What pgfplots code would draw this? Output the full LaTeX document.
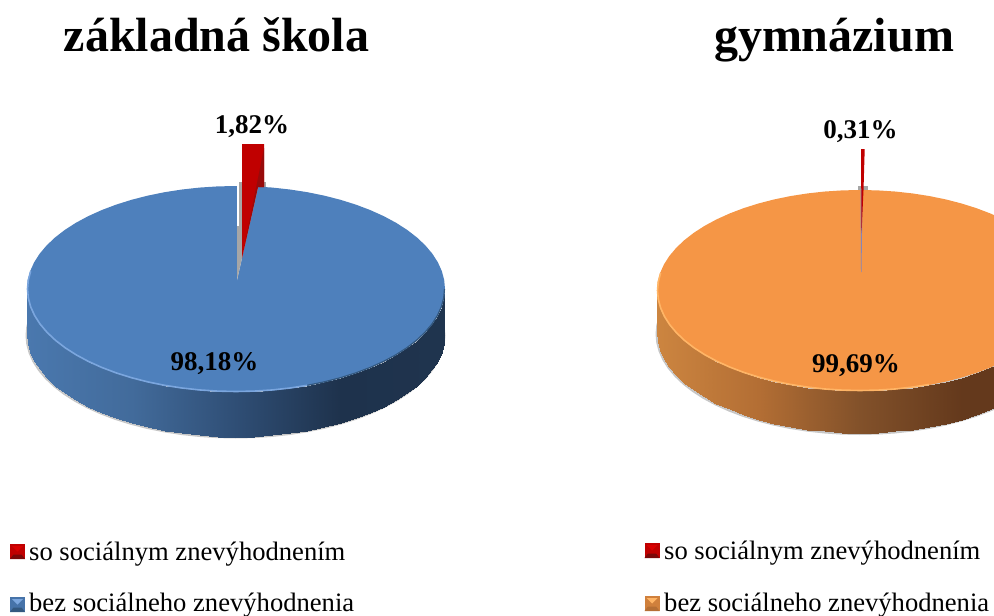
\documentclass[border=0pt]{standalone}
\usepackage{fontspec}
\setmainfont{Liberation Serif}
\usepackage{pgfplots}
\usepackage{pgfplotstable}
\pgfplotsset{compat=1.18}

\definecolor{modra}{HTML}{4E80BC}
\definecolor{modrasvetla}{HTML}{7BA6DE}
\definecolor{modratmava}{HTML}{33587F}
\definecolor{oranz}{HTML}{F59646}
\definecolor{oranzsvetla}{HTML}{FFB566}
\definecolor{oranztmava}{HTML}{B56F35}
\definecolor{cervena}{HTML}{C00000}
\definecolor{cervenatmava}{HTML}{980A0A}
\definecolor{siva}{HTML}{A6A6A6}

% rim of the disc, front half only: h=0 upper edge, h=1 lower edge
\pgfplotstableread{
a h
0 0
0 1
5 0
5 1
10 0
10 1
15 0
15 1
20 0
20 1
25 0
25 1
30 0
30 1
35 0
35 1
40 0
40 1
45 0
45 1
50 0
50 1
55 0
55 1
60 0
60 1
65 0
65 1
70 0
70 1
75 0
75 1
80 0
80 1
85 0
85 1
90 0
90 1
95 0
95 1
100 0
100 1
105 0
105 1
110 0
110 1
115 0
115 1
120 0
120 1
125 0
125 1
130 0
130 1
135 0
135 1
140 0
140 1
145 0
145 1
150 0
150 1
155 0
155 1
160 0
160 1
165 0
165 1
170 0
170 1
175 0
175 1
180 0
180 1
}\tabrim

\pgfplotstableread[row sep=\\]{
a z\\ 0 0\\ 5 0\\ 10 0\\ 15 0\\ 20 0\\ 25 0\\ 30 0\\ 35 0\\ 40 0\\ 45 0\\ 50 0\\ 55 0\\ 60 0\\ 65 0\\ 70 0\\ 75 0\\ 80 0\\ 85 0\\ 90 0\\
95 0\\ 100 0\\ 105 0\\ 110 0\\ 115 0\\ 120 0\\ 125 0\\ 130 0\\ 135 0\\ 140 0\\ 145 0\\ 150 0\\ 155 0\\ 160 0\\ 165 0\\ 170 0\\ 175 0\\ 180 0\\
185 0\\ 190 0\\ 195 0\\ 200 0\\ 205 0\\ 210 0\\ 215 0\\ 220 0\\ 225 0\\ 230 0\\ 235 0\\ 240 0\\ 245 0\\ 250 0\\ 255 0\\ 260 0\\ 265 0\\ 270 0\\
275 0\\ 280 0\\ 285 0\\ 290 0\\ 295 0\\ 300 0\\ 305 0\\ 310 0\\ 315 0\\ 320 0\\ 325 0\\ 330 0\\ 335 0\\ 340 0\\ 345 0\\ 350 0\\ 355 0\\ 360 0\\
}\tabring

% legend swatches
\newcommand\bevelmark[4]{\pgfdeclareplotmark{#1}{%
  \pgfsetfillcolor{#2}%
  \pgfpathrectanglecorners{\pgfpoint{-7.5pt}{-7.5pt}}{\pgfpoint{7.5pt}{7.5pt}}\pgfusepathqfill
  \pgfsetfillcolor{#4}%
  \pgfpathmoveto{\pgfpoint{-7.5pt}{-7.5pt}}\pgfpathlineto{\pgfpoint{7.5pt}{-7.5pt}}%
  \pgfpathlineto{\pgfpoint{4pt}{-3pt}}\pgfpathlineto{\pgfpoint{-4pt}{-3pt}}\pgfpathclose\pgfusepathqfill
  \pgfsetfillcolor{#3}%
  \pgfpathmoveto{\pgfpoint{-5.5pt}{5.5pt}}\pgfpathlineto{\pgfpoint{5.5pt}{5.5pt}}%
  \pgfpathlineto{\pgfpoint{0pt}{0pt}}\pgfpathclose\pgfusepathqfill
}}
\bevelmark{znakr}{cervena}{red!85!black}{cervenatmava!80!black}
\bevelmark{znakb}{modra!90!black}{modrasvetla}{modratmava}
\bevelmark{znako}{oranz!85!black}{oranzsvetla}{oranztmava}

\pgfplotsset{
  page/.style={
    at={(0pt,0pt)}, anchor=south west,
    width=994pt, height=616pt, scale only axis,
    xmin=0, xmax=994, ymin=0, ymax=616, y dir=reverse,
    hide axis, clip=true,
  },
}
\tikzset{
  hlava/.style={font=\fontsize{48}{54}\selectfont\bfseries, anchor=base, inner sep=0pt},
  popis/.style={font=\fontsize{27}{30}\selectfont\bfseries, anchor=base, inner sep=0pt},
  leg/.style={font=\fontsize{26.6}{30}\selectfont, anchor=base west, inner sep=0pt},
}

\begin{document}
\begin{tikzpicture}[x=1pt,y=1pt]
\useasboundingbox (0,0) rectangle (994,616);
\begin{axis}[page,
  colormap={bokl}{rgb255(0cm)=(74,120,174) rgb255(1cm)=(66,107,155) rgb255(2cm)=(47,78,117) rgb255(3cm)=(30,50,76) rgb255(4cm)=(31,52,78)},
  point meta min=27, point meta max=445]
% shadow
\addplot[fill=black!22, draw=none] table[x expr=235.5+210*cos(\thisrow{a}), y expr=290+103*sin(\thisrow{a})+45.5] {\tabring};
% side wall
\addplot[surf, shader=interp, mesh/cols=2, point meta=x] table[x expr=236+209*cos(\thisrow{a}), y expr=289+103*sin(\thisrow{a})+45*\thisrow{h}] {\tabrim};
% top
\addplot[fill=modra, draw=none] table[x expr=236+209*cos(\thisrow{a}), y expr=289+103*sin(\thisrow{a})] {\tabring};
\addplot[modrasvetla, line width=1.6pt, restrict expr to domain={\thisrow{a}}{70:190}] table[x expr=236+208.5*cos(\thisrow{a}), y expr=289+102.5*sin(\thisrow{a})] {\tabring};
\addplot[modratmava, line width=1.2pt, restrict expr to domain={\thisrow{a}}{0:70}] table[x expr=236+208.5*cos(\thisrow{a}), y expr=289+102.5*sin(\thisrow{a})] {\tabring};
% gap left by the pulled out slice
\addplot[fill=white, draw=none] coordinates {(237,280) (237,184) (258,184) (258,187)} -- cycle;
\addplot[fill=siva, draw=none] coordinates {(237,280) (237,226) (242,226) (242,258)} -- cycle;
\addplot[fill=siva, draw=none] coordinates {(239,226) (239,182) (242,182) (242,226)} -- cycle;
\addplot[fill=siva, draw=none] coordinates {(262,182) (266,182) (266,187) (262,187)} -- cycle;
% pulled out slice
\addplot[fill=cervena, draw=none] coordinates {(242,144) (264,144) (264,187) (258,187) (242,258)} -- cycle;
\addplot[fill=cervenatmava, draw=none] coordinates {(264,148) (264,187) (258,187) (242,258)} -- cycle;
% legend swatches
\addplot[only marks, mark=znakr] coordinates {(17.5,551.5)};
\addplot[only marks, mark=znakb] coordinates {(17.5,604.5)};
\node[hlava] at (axis cs:216.5,51) {základná škola};
\node[popis] at (axis cs:252,133) {1,82\%};
\node[popis] at (axis cs:214.5,370) {98,18\%};
\node[leg] at (axis cs:29,560) {so sociálnym znevýhodnením};
\node[leg] at (axis cs:29,611) {bez sociálneho znevýhodnenia};
\end{axis}
\begin{axis}[page,
  colormap={boko}{rgb255(0cm)=(204,133,64) rgb255(1cm)=(179,110,52) rgb255(2cm)=(130,81,42) rgb255(3cm)=(100,57,28) rgb255(4cm)=(100,57,28)},
  point meta min=657, point meta max=1063]
\addplot[fill=black!22, draw=none] table[x expr=859.5+204*cos(\thisrow{a}), y expr=291.5+101*sin(\thisrow{a})+42.5] {\tabring};
\addplot[surf, shader=interp, mesh/cols=2, point meta=x] table[x expr=860+203*cos(\thisrow{a}), y expr=290.5+100.5*sin(\thisrow{a})+42*\thisrow{h}] {\tabrim};
\addplot[fill=oranz, draw=none] table[x expr=860+203*cos(\thisrow{a}), y expr=290.5+100.5*sin(\thisrow{a})] {\tabring};
\addplot[oranzsvetla, line width=1.6pt, restrict expr to domain={\thisrow{a}}{70:190}] table[x expr=860+202.5*cos(\thisrow{a}), y expr=290.5+100*sin(\thisrow{a})] {\tabring};
% slice
\addplot[fill=siva, draw=none] coordinates {(858,186) (867.5,186) (867.5,190) (858,190)} -- cycle;
\addplot[fill=siva!80!blue, draw=none] coordinates {(860.5,190) (862.5,190) (861.5,272) (861,272)} -- cycle;
\addplot[fill=cervena, draw=none] coordinates {(861,149) (864.7,149) (863.5,190) (861.5,233)} -- cycle;
\addplot[only marks, mark=znakr] coordinates {(652,550.5)};
\addplot[only marks, mark=znako] coordinates {(652,603.5)};
\node[hlava] at (axis cs:834,51) {gymnázium};
\node[popis] at (axis cs:860.5,138) {0,31\%};
\node[popis] at (axis cs:856,372) {99,69\%};
\node[leg] at (axis cs:664,559) {so sociálnym znevýhodnením};
\node[leg] at (axis cs:664,611) {bez sociálneho znevýhodnenia};
\end{axis}
\end{tikzpicture}
\end{document}
